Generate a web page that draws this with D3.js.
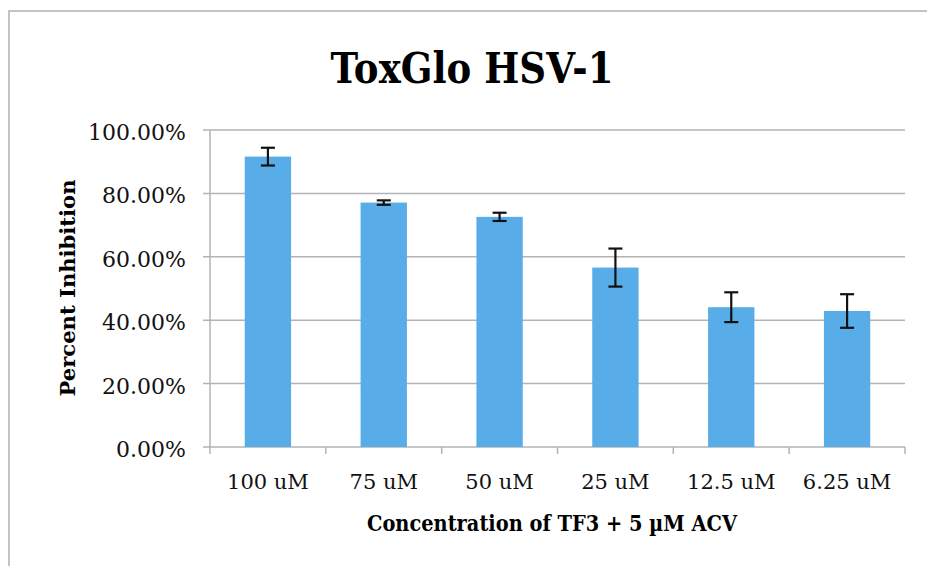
<!DOCTYPE html>
<html><head><meta charset="utf-8">
<script src="https://cdn.jsdelivr.net/npm/d3@7"></script>
<style>body{margin:0;background:#fff}svg{display:block}</style>
</head><body>
<svg id="c" width="927" height="566"></svg>
<script>
const categories = ["100 uM","75 uM","50 uM","25 uM","12.5 uM","6.25 uM"];
const values = [0.916,0.771,0.726,0.566,0.441,0.429];
const errors = [0.028,0.007,0.013,0.060,0.047,0.053];
const yTicks = [0,0.2,0.4,0.6,0.8,1.0];
const title = "ToxGlo HSV-1";
const xTitle = "Concentration of TF3 + 5 µM ACV";
const yTitle = "Percent Inhibition";

(function(){
const svg = d3.select("#c");
const W=927,H=566;
const pL=210,pR=905,pT=130,pB=447;
const x = d3.scaleBand().domain(categories).range([pL,pR]).paddingInner(0.6).paddingOuter(0.3);
const y = d3.scaleLinear().domain([0,1]).range([pB,pT]);
const serif = "'DejaVu Serif', 'Liberation Serif', serif";

// frame
svg.append("path").attr("d",`M9,${H+5} L9,11 L${W+5},11`).attr("fill","none").attr("stroke","#c4c4c4").attr("stroke-width",2);

// gridlines
svg.append("g").selectAll("line").data(yTicks).join("line")
  .attr("x1",pL-7).attr("x2",pR).attr("y1",d=>y(d)).attr("y2",d=>y(d))
  .attr("stroke","#b3b3b3").attr("stroke-width",1.5);
// y axis line
svg.append("line").attr("x1",pL).attr("x2",pL).attr("y1",pT).attr("y2",pB+1).attr("stroke","#b3b3b3").attr("stroke-width",1.5);
// x ticks
const bounds = categories.map(c=>x(c)-x.step()*x.paddingInner()/2);
bounds[0]=pL; bounds.push(pR);
svg.append("g").selectAll("line").data(bounds).join("line")
  .attr("x1",d=>d).attr("x2",d=>d).attr("y1",pB).attr("y2",pB+7)
  .attr("stroke","#b3b3b3").attr("stroke-width",1.5);

// y labels
svg.append("g").selectAll("text").data(yTicks).join("text")
  .attr("x",186).attr("y",d=>y(d)+10).attr("text-anchor","end")
  .attr("font-family",serif).attr("font-size",22).attr("fill","#111")
  .text(d=>d3.format(".2%")(d));

// bars
svg.append("g").selectAll("rect").data(categories).join("rect")
  .attr("x",d=>x(d)).attr("width",x.bandwidth())
  .attr("y",(d,i)=>y(values[i])).attr("height",(d,i)=>pB-y(values[i]))
  .attr("fill","#58ade9");

// error bars
const eg = svg.append("g").attr("stroke","#111").attr("stroke-width",2.2);
categories.forEach((c,i)=>{
  const cx = x(c)+x.bandwidth()/2;
  const y1 = y(values[i]+errors[i]), y2 = y(values[i]-errors[i]);
  eg.append("line").attr("x1",cx).attr("x2",cx).attr("y1",y1).attr("y2",y2);
  eg.append("line").attr("x1",cx-7).attr("x2",cx+7).attr("y1",y1).attr("y2",y1);
  eg.append("line").attr("x1",cx-7).attr("x2",cx+7).attr("y1",y2).attr("y2",y2);
});

// x labels
svg.append("g").selectAll("text").data(categories).join("text")
  .attr("x",d=>x(d)+x.bandwidth()/2).attr("y",489).attr("text-anchor","middle")
  .attr("font-family",serif).attr("font-size",21).attr("fill","#111")
  .text(d=>d);

// title
svg.append("text").attr("x",472).attr("y",83).attr("text-anchor","middle")
  .attr("font-family",serif).attr("font-weight","bold").attr("font-size",42)
  .attr("textLength",283).attr("lengthAdjust","spacingAndGlyphs").attr("fill","#000")
  .text(title);

// x title
svg.append("text").attr("x",552).attr("y",531).attr("text-anchor","middle")
  .attr("font-family",serif).attr("font-weight","bold").attr("font-size",22)
  .attr("textLength",370).attr("lengthAdjust","spacingAndGlyphs").attr("fill","#000")
  .text(xTitle);

// y title
svg.append("text").attr("transform","translate(75,288) rotate(-90)").attr("text-anchor","middle")
  .attr("font-family",serif).attr("font-weight","bold").attr("font-size",21)
  .attr("textLength",217).attr("lengthAdjust","spacingAndGlyphs").attr("fill","#000")
  .text(yTitle);
})();
</script>
</body></html>
